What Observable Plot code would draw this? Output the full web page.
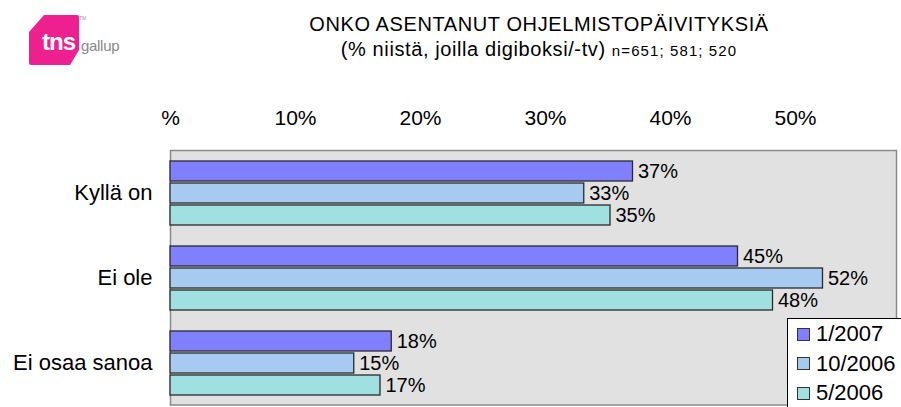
<!DOCTYPE html>
<html>
<head>
<meta charset="utf-8">
<script src="https://cdn.jsdelivr.net/npm/d3@7"></script>
<script src="https://cdn.jsdelivr.net/npm/@observablehq/plot@0.6"></script>
<style>
  html, body { margin: 0; padding: 0; background: #fff; }
  #wrap { position: relative; width: 901px; height: 407px; overflow: hidden; font-family: "Liberation Sans", Arial, sans-serif; color: #000; }
  #chart { position: absolute; left: 0; top: 0; }
  #title { position: absolute; left: 239px; width: 600px; top: 12px; text-align: center; font-size: 20px; line-height: 25px; letter-spacing: 0.6px; white-space: nowrap; }
  #title .sub { letter-spacing: 0.6px; }
  #title .n { font-size: 15px; letter-spacing: 1.1px; }
  #logo { position: absolute; left: 0; top: 0; }
  #legend { position: absolute; left: 787px; top: 318px; width: 130px; height: 100px; background: #fff; border: 1px solid #000; box-sizing: border-box; }
  #legend .item { position: absolute; left: 9px; height: 24px; display: flex; align-items: center; font-size: 22px; }
  #legend .sw { width: 11px; height: 11px; border: 1.5px solid #333; margin-right: 6px; }
  #chart g[aria-label^="fy-axis"] { font-size: 22px !important; }
</style>
</head>
<body>
<div id="wrap">
  <svg id="logo" width="140" height="80">
    <path d="M44,15 L77,15 Q79,15 79,17 L79,50 L70,65 L31,65 Q29,65 29,63 L29,32 Z" fill="#ee1f8e"/>
    <text x="42" y="50" fill="#fff" font-family="'Liberation Sans', Arial, sans-serif" font-weight="bold" font-size="24" letter-spacing="-1">tns</text>
    <text x="79" y="20" fill="#999" font-family="'Liberation Sans', Arial, sans-serif" font-size="5">TM</text>
    <text x="81" y="51" fill="#888" font-family="'Liberation Sans', Arial, sans-serif" font-size="15" letter-spacing="-0.3">gallup</text>
  </svg>
  <div id="title">ONKO ASENTANUT OHJELMISTOPÄIVITYKSIÄ<br><span class="sub">(% niistä, joilla digiboksi/-tv)</span> <span class="n">n=651; 581; 520</span></div>
  <div id="chart"></div>
  <div id="legend"></div>
</div>
<script>
const categories = ["Kyllä on", "Ei ole", "Ei osaa sanoa"];
const series = ["1/2007", "10/2006", "5/2006"];
const colors = ["#8080ff", "#a6caf0", "#a0e0e0"];
// values per series, in category order
const values2007_01 = [37.0, 45.4, 17.7];
const values2006_10 = [33.1, 52.2, 14.7];
const values2006_05 = [35.2, 48.2, 16.8];
const valueLabels2007_01 = ["37%", "45%", "18%"];
const valueLabels2006_10 = ["33%", "52%", "15%"];
const valueLabels2006_05 = ["35%", "48%", "17%"];
const xTicks = [0, 10, 20, 30, 40, 50];
const xTickLabels = ["%", "10%", "20%", "30%", "40%", "50%"];

const seriesValues = [values2007_01, values2006_10, values2006_05];
const seriesLabels = [valueLabels2007_01, valueLabels2006_10, valueLabels2006_05];
const rows = [];
categories.forEach((c, ci) => {
  series.forEach((s, si) => {
    rows.push({cat: c, series: s, value: seriesValues[si][ci], label: seriesLabels[si][ci]});
  });
});

const chart = Plot.plot({
  width: 901,
  height: 407,
  marginTop: 149,
  marginBottom: 1,
  marginLeft: 170,
  marginRight: 5,
  style: {fontFamily: "'Liberation Sans', Arial, sans-serif", fontSize: "21px", color: "#000", background: "transparent"},
  x: {domain: [0, 58.08], axis: "top", ticks: xTicks, tickFormat: (d) => xTickLabels[xTicks.indexOf(d)], tickSize: 0, tickPadding: 36, label: null},
  fy: {domain: categories, paddingInner: 0.235, paddingOuter: 0.1176, axis: "left", tickSize: 0, tickPadding: 18, label: null},
  y: {domain: series, axis: null, paddingInner: 0.11, paddingOuter: 0},
  color: {domain: series, range: colors},
  marks: [
    Plot.frame({facet: "super", fill: "#e1e1e1", stroke: "#8a8a8a", strokeWidth: 1.5, insetTop: -10, insetBottom: -9.5}),
    Plot.barX(rows, {fy: "cat", y: "series", x: "value", fill: "series", stroke: "#2a2a2a", strokeWidth: 1.3}),
    Plot.text(rows, {fy: "cat", y: "series", x: "value", text: "label", dx: 5, textAnchor: "start", fontSize: 20, fill: "#000"})
  ]
});
document.getElementById("chart").appendChild(chart);

const legend = document.getElementById("legend");
series.forEach((s, i) => {
  const item = document.createElement("div");
  item.className = "item";
  item.style.top = (3 + i * 29.5) + "px";
  const sw = document.createElement("div");
  sw.className = "sw";
  sw.style.background = colors[i];
  const t = document.createElement("span");
  t.textContent = s;
  item.appendChild(sw);
  item.appendChild(t);
  legend.appendChild(item);
});
</script>
</body>
</html>
